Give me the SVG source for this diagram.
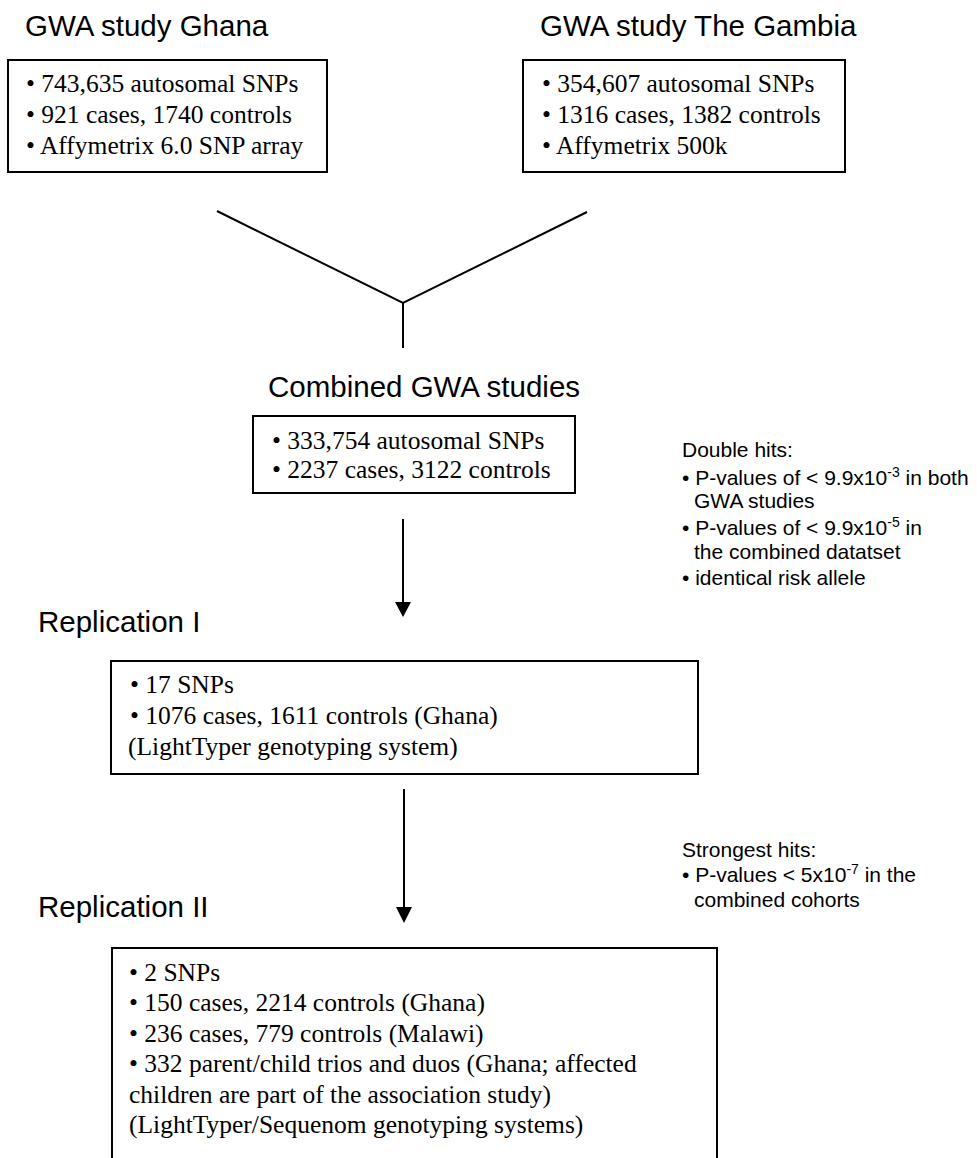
<svg xmlns="http://www.w3.org/2000/svg" width="977" height="1158" viewBox="0 0 977 1158">
<style>
.title{font-family:"Liberation Sans",Arial,sans-serif;font-size:29.5px;fill:#000}
.body{font-family:"Liberation Serif","Times New Roman",serif;font-size:25.5px;fill:#000}
.note{font-family:"Liberation Sans",Arial,sans-serif;font-size:21px;fill:#000}
.box{fill:#fff;stroke:#000;stroke-width:2}
.ln{stroke:#000;stroke-width:2;fill:none}
.sup{font-size:14px}
</style>
<rect width="977" height="1158" fill="#fff"/>
<g id="ghana">
<text class="title" x="25" y="36">GWA study Ghana</text>
<rect class="box" x="8" y="60" width="319" height="112"/>
<text class="body" x="26" y="92">• 743,635 autosomal SNPs</text>
<text class="body" x="26" y="123">• 921 cases, 1740 controls</text>
<text class="body" x="26" y="154">• Affymetrix 6.0 SNP array</text>
</g>
<g id="gambia">
<text class="title" x="540" y="36">GWA study The Gambia</text>
<rect class="box" x="523" y="60" width="322" height="112"/>
<text class="body" x="542" y="92">• 354,607 autosomal SNPs</text>
<text class="body" x="542" y="123">• 1316 cases, 1382 controls</text>
<text class="body" x="542" y="154">• Affymetrix 500k</text>
</g>
<g id="combined">
<text class="title" x="268" y="397">Combined GWA studies</text>
<rect class="box" x="253" y="416" width="322" height="77"/>
<text class="body" x="272" y="449">• 333,754 autosomal SNPs</text>
<text class="body" x="272" y="478">• 2237 cases, 3122 controls</text>
</g>
<g id="double-hits">
<text class="note" x="682" y="457">Double hits:</text>
<text class="note" x="682" y="485">• P-values of &lt; 9.9x10<tspan class="sup" dy="-8">-3</tspan><tspan dy="8"> in both</tspan></text>
<text class="note" x="694" y="508">GWA studies</text>
<text class="note" x="682" y="535">• P-values of &lt; 9.9x10<tspan class="sup" dy="-8">-5</tspan><tspan dy="8"> in</tspan></text>
<text class="note" x="694" y="559">the combined datatset</text>
<text class="note" x="682" y="585">• identical risk allele</text>
</g>
<g id="replication1">
<text class="title" x="38" y="632">Replication I</text>
<rect class="box" x="111" y="661" width="587" height="113"/>
<text class="body" x="130" y="693">• 17 SNPs</text>
<text class="body" x="130" y="724">• 1076 cases, 1611 controls (Ghana)</text>
<text class="body" x="128" y="755">(LightTyper genotyping system)</text>
</g>
<g id="strongest-hits">
<text class="note" x="682" y="857">Strongest hits:</text>
<text class="note" x="682" y="882">• P-values &lt; 5x10<tspan class="sup" dy="-8">-7</tspan><tspan dy="8"> in the</tspan></text>
<text class="note" x="694" y="907">combined cohorts</text>
</g>
<g id="replication2">
<text class="title" x="38" y="917">Replication II</text>
<rect class="box" x="112" y="948" width="605" height="230"/>
<text class="body" x="129" y="981">• 2 SNPs</text>
<text class="body" x="129" y="1011">• 150 cases, 2214 controls (Ghana)</text>
<text class="body" x="129" y="1042">• 236 cases, 779 controls (Malawi)</text>
<text class="body" x="129" y="1072">• 332 parent/child trios and duos (Ghana; affected</text>
<text class="body" x="129" y="1103">children are part of the association study)</text>
<text class="body" x="129" y="1133">(LightTyper/Sequenom genotyping systems)</text>
</g>
<g id="connectors">
<polyline class="ln" points="217,211 403,303 587,212"/>
<line class="ln" x1="403" y1="303" x2="403" y2="348"/>
<line class="ln" x1="403" y1="519" x2="403" y2="604"/>
<polygon points="395,602 411,602 403,617" fill="#000"/>
<line class="ln" x1="404" y1="789" x2="404" y2="909"/>
<polygon points="396,907 412,907 404,923" fill="#000"/>
</g>
</svg>
